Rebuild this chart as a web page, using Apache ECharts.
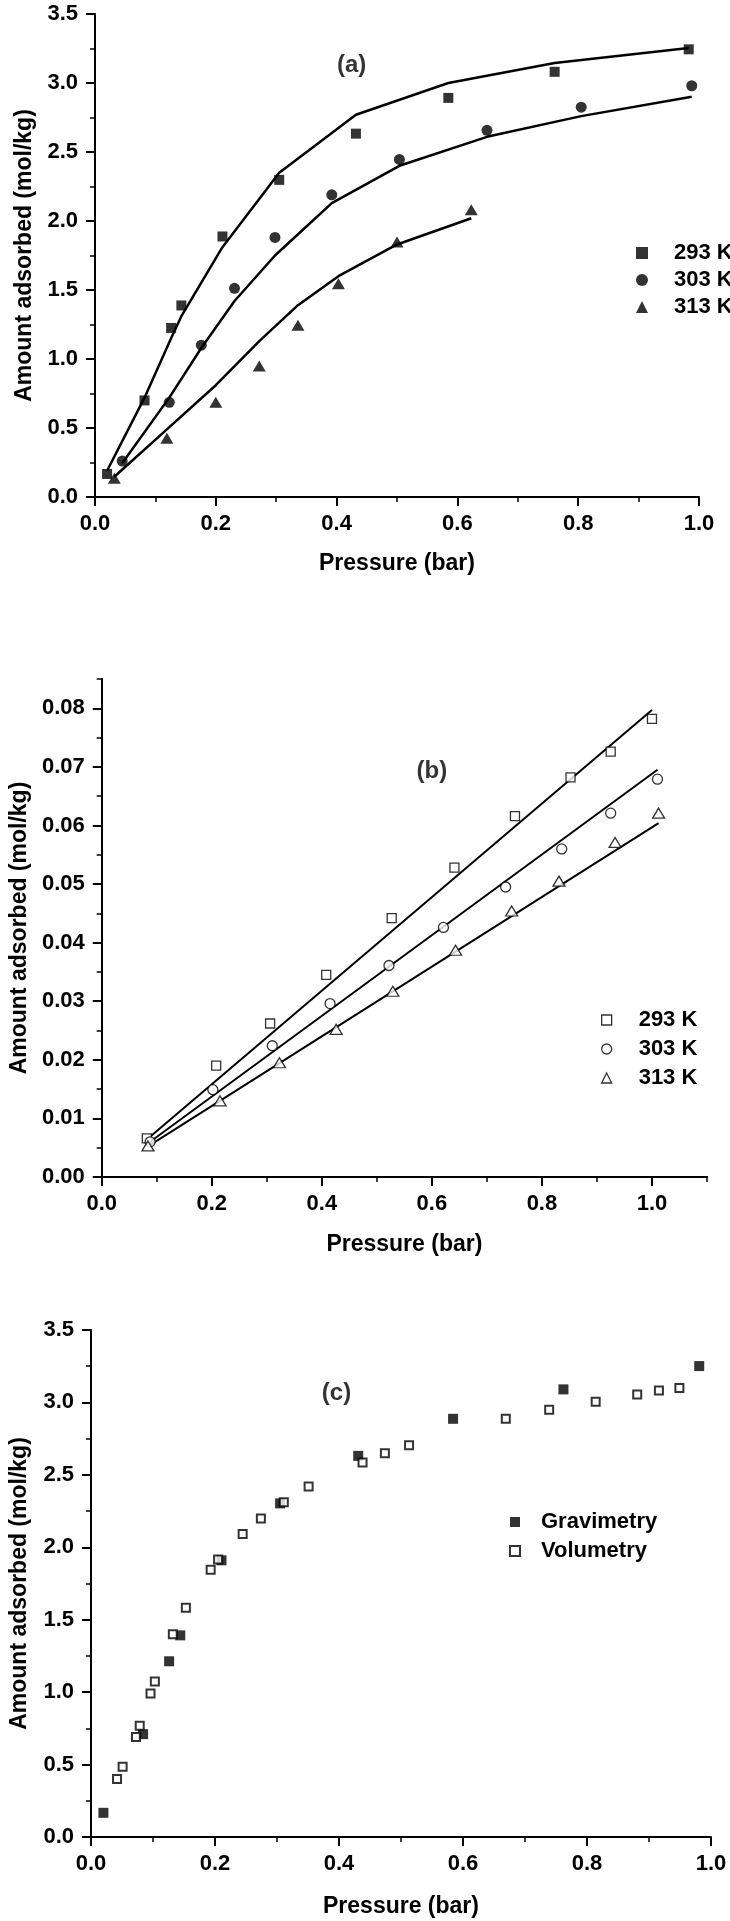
<!DOCTYPE html>
<html>
<head>
<meta charset="utf-8">
<script src="https://cdn.jsdelivr.net/npm/echarts@6/dist/echarts.min.js"></script>
<style>
  html, body { margin: 0; padding: 0; background: #fff; }
  #chart { width: 730px; height: 1921px; }
</style>
</head>
<body>
<div id="chart"></div>
<script>
  // (a) measured points [pressure, amount] and fitted curves
  var a293 = [[0.020, 0.167], [0.082, 0.70], [0.126, 1.225], [0.143, 1.388], [0.211, 1.888], [0.305, 2.298], [0.432, 2.633], [0.585, 2.892], [0.761, 3.081], [0.983, 3.244]];
  var a303 = [[0.045, 0.26], [0.123, 0.686], [0.176, 1.10], [0.231, 1.512], [0.298, 1.881], [0.392, 2.19], [0.504, 2.446], [0.649, 2.657], [0.805, 2.825], [0.988, 2.98]];
  var a313 = [[0.032, 0.135], [0.119, 0.425], [0.200, 0.686], [0.272, 0.95], [0.336, 1.244], [0.403, 1.546], [0.500, 1.848], [0.623, 2.082]];
  var fitA293 = [[0.020, 0.19], [0.082, 0.72], [0.126, 1.15], [0.143, 1.31], [0.211, 1.81], [0.305, 2.35], [0.432, 2.77], [0.585, 3.00], [0.761, 3.145], [0.983, 3.253]];
  var fitA303 = [[0.045, 0.245], [0.123, 0.72], [0.176, 1.08], [0.231, 1.42], [0.298, 1.75], [0.392, 2.13], [0.504, 2.40], [0.649, 2.61], [0.805, 2.76], [0.988, 2.90]];
  var fitA313 = [[0.032, 0.147], [0.119, 0.49], [0.200, 0.81], [0.272, 1.13], [0.336, 1.39], [0.403, 1.60], [0.500, 1.83], [0.623, 2.02]];

  // (b)
  var b293 = [[0.082, 0.0066], [0.208, 0.0190], [0.306, 0.0262], [0.408, 0.0345], [0.527, 0.0442], [0.641, 0.0528], [0.751, 0.0616], [0.852, 0.0682], [0.925, 0.0726], [1.000, 0.0782]];
  var b303 = [[0.088, 0.0060], [0.202, 0.0149], [0.310, 0.0224], [0.415, 0.0296], [0.522, 0.0361], [0.621, 0.0426], [0.734, 0.0495], [0.836, 0.0560], [0.925, 0.0621], [1.010, 0.0679]];
  var b313 = [[0.084, 0.0053], [0.215, 0.0130], [0.323, 0.0195], [0.426, 0.0252], [0.529, 0.0317], [0.643, 0.0387], [0.745, 0.0454], [0.831, 0.0505], [0.933, 0.0571], [1.012, 0.0621]];
  var fitB293 = [[0.082, 0.0064], [1.000, 0.0797]];
  var fitB303 = [[0.085, 0.0058], [1.010, 0.0695]];
  var fitB313 = [[0.087, 0.0054], [1.012, 0.0604]];

  // (c)
  var grav = [[0.020, 0.167], [0.084, 0.71], [0.126, 1.213], [0.144, 1.392], [0.2105, 1.91], [0.305, 2.303], [0.431, 2.631], [0.584, 2.887], [0.762, 3.09], [0.981, 3.251]];
  var vol = [[0.042, 0.400], [0.051, 0.485], [0.0726, 0.690], [0.0786, 0.768], [0.096, 0.99], [0.103, 1.074], [0.132, 1.40], [0.153, 1.582], [0.193, 1.845], [0.205, 1.915], [0.2446, 2.091], [0.274, 2.199], [0.311, 2.311], [0.351, 2.42], [0.438, 2.585], [0.474, 2.649], [0.513, 2.705], [0.669, 2.887], [0.739, 2.949], [0.814, 3.005], [0.881, 3.054], [0.916, 3.082], [0.949, 3.10]];

  var tempNames = ['293 K', '303 K', '313 K'];
  var methodNames = ['Gravimetry', 'Volumetry'];
  var panelText = ['(a)', '(b)', '(c)'];
  var panelPos = [[0.425, 3.13], [0.60, 0.0693], [0.396, 3.064]];
  var ticksBx = [0, 0.2, 0.4, 0.6, 0.8, 1.0];
  var ticksBy = [0, 0.01, 0.02, 0.03, 0.04, 0.05, 0.06, 0.07, 0.08];

  var font = "'Liberation Sans', Arial, sans-serif";
  var xName = 'Pressure (bar)';
  var yName = 'Amount adsorbed (mol/kg)';

  function axis(grid, max, interval, digits, name, gap, pos) {
    return {
      type: 'value',
      gridIndex: grid,
      position: pos,
      min: 0,
      max: max,
      interval: interval,
      name: name,
      nameLocation: 'middle',
      nameGap: gap,
      nameTextStyle: { fontSize: 23, fontWeight: 'bold', fontFamily: font, color: '#000' },
      axisLine: { show: true, lineStyle: { color: '#000', width: 2 } },
      axisTick: { show: true, length: 9, lineStyle: { color: '#000', width: 2 } },
      minorTick: { show: true, splitNumber: 2, length: 5, lineStyle: { color: '#000', width: 1.5 } },
      splitLine: { show: false },
      axisLabel: {
        fontSize: 22, fontWeight: 'bold', fontFamily: font, color: '#000', margin: pos == 'left' ? 17 : 16,
        formatter: function(v) { return v.toFixed(digits); }
      }
    };
  }

  // (b) uses a second axis for the short ticks, since the axis ends off the label step
  var bxMajor = axis(1, 1.1, 0.2, 1, xName, 56, 'bottom');
  bxMajor.minorTick = { show: false };
  bxMajor.axisTick.customValues = ticksBx;
  bxMajor.axisLabel.customValues = ticksBx;
  var bxMinor = axis(1, 1.1, 0.1, 1, '', 0, 'bottom');
  bxMinor.minorTick = { show: false };
  bxMinor.axisTick.length = 5;
  bxMinor.axisTick.lineStyle.width = 1.5;
  bxMinor.axisLabel = { show: false };

  var byMajor = axis(1, 0.085, 0.01, 2, yName, 68, 'left');
  byMajor.minorTick = { show: false };
  byMajor.axisTick.customValues = ticksBy;
  byMajor.axisLabel.customValues = ticksBy;
  var byMinor = axis(1, 0.085, 0.005, 2, '', 0, 'left');
  byMinor.minorTick = { show: false };
  byMinor.axisTick.length = 5;
  byMinor.axisTick.lineStyle.width = 1.5;
  byMinor.axisLabel = { show: false };

  function points(name, xi, data, symbol, size, open) {
    return {
      name: name,
      type: 'scatter',
      xAxisIndex: xi,
      yAxisIndex: xi,
      symbol: symbol,
      symbolSize: size,
      itemStyle: open ? { color: '#fff', borderColor: '#000', borderWidth: open } : { color: '#000' },
      data: data,
      z: 3
    };
  }

  function fit(xi, data, width) {
    return {
      type: 'line',
      xAxisIndex: xi,
      yAxisIndex: xi,
      showSymbol: false,
      symbol: 'none',
      lineStyle: { color: '#000', width: width },
      data: data,
      z: 2
    };
  }

  function panel(i, xi) {
    return {
      type: 'scatter',
      xAxisIndex: xi,
      yAxisIndex: xi,
      symbolSize: 1,
      silent: true,
      itemStyle: { color: 'rgba(0,0,0,0)' },
      label: {
        show: true, position: 'inside', formatter: panelText[i],
        fontSize: 24, fontWeight: 'bold', fontFamily: font, color: '#000'
      },
      data: [panelPos[i]]
    };
  }

  function legend(left, top, size, gap, pad, names, icons, border) {
    return {
      left: left,
      top: top,
      orient: 'vertical',
      itemWidth: size,
      itemHeight: size,
      itemGap: gap,
      selectedMode: false,
      itemStyle: { borderWidth: border },
      formatter: function(n) { return n.split(':')[1]; },
      textStyle: { fontSize: 22, fontWeight: 'bold', fontFamily: font, color: '#000', lineHeight: 22, padding: [0, 0, 0, pad] },
      data: names.map(function(n, k) { return { name: n, icon: icons[k] }; })
    };
  }

  var option = {
    animation: false,
    backgroundColor: '#fff',
    grid: [
      { left: 95, top: 14, width: 604, height: 483 },
      { left: 90, top: 679, width: 617, height: 498 },
      { left: 83, top: 1330, width: 628, height: 507 }
    ],
    xAxis: [
      axis(0, 1.0, 0.2, 1, xName, 55, 'bottom'),
      bxMajor,
      bxMinor,
      axis(2, 1.0, 0.2, 1, xName, 58, 'bottom')
    ],
    yAxis: [
      axis(0, 3.5, 0.5, 1, yName, 49, 'left'),
      byMajor,
      byMinor,
      axis(2, 3.5, 0.5, 1, yName, 60, 'left')
    ],
    legend: [
      legend(631, 237, 12, 5, 21, tempNames.map(function(n) { return 'a:' + n; }), ['rect', 'circle', 'triangle'], 0),
      legend(596, 1004, 10, 7, 22, tempNames.map(function(n) { return 'b:' + n; }), ['rect', 'circle', 'triangle'], 1.3),
      legend(504, 1506, 10, 7, 16, methodNames.map(function(n) { return 'c:' + n; }), ['rect', 'rect'], 2)
    ],
    series: [
      fit(0, fitA293, 2.5),
      fit(0, fitA303, 2.5),
      fit(0, fitA313, 2.5),
      points('a:' + tempNames[0], 0, a293, 'rect', 10, 0),
      points('a:' + tempNames[1], 0, a303, 'circle', 11, 0),
      points('a:' + tempNames[2], 0, a313, 'triangle', [13, 11], 0),
      panel(0, 0),

      fit(1, fitB293, 2),
      fit(1, fitB303, 2),
      fit(1, fitB313, 2),
      points('b:' + tempNames[0], 1, b293, 'rect', 9, 1.3),
      points('b:' + tempNames[1], 1, b303, 'circle', 10, 1.3),
      points('b:' + tempNames[2], 1, b313, 'triangle', [12, 10], 1.3),
      panel(1, 1),

      points('c:' + methodNames[0], 3, grav, 'rect', 10, 0),
      points('c:' + methodNames[1], 3, vol, 'rect', 8, 2),
      panel(2, 3)
    ]
  };

  var myChart = echarts.init(document.getElementById('chart'), null, { renderer: 'canvas' });
  myChart.setOption(option, true);
</script>
</body>
</html>
